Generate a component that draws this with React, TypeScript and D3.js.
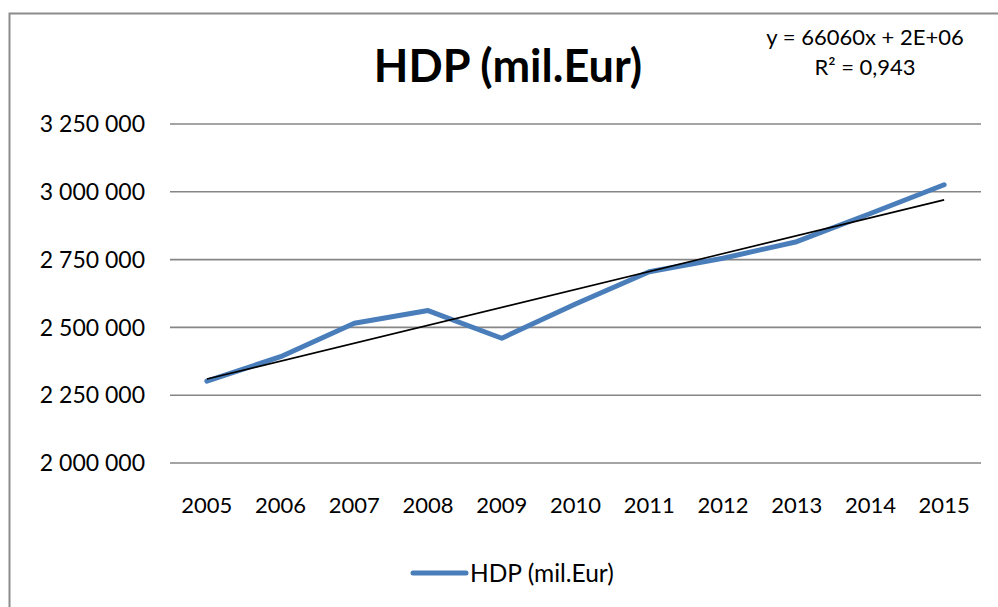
import React, { useRef, useEffect } from 'react';
import * as d3 from "d3";

// HDP data
const years = ["2005", "2006", "2007", "2008", "2009", "2010", "2011", "2012", "2013", "2014", "2015"];
const hdp = [2302000, 2392000, 2515000, 2562000, 2460000, 2586000, 2705000, 2755000, 2816000, 2920000, 3026000];
const yTicks = [2000000, 2250000, 2500000, 2750000, 3000000, 3250000];
const titleText = "HDP (mil.Eur)";
const equationLines = ["y = 66060x + 2E+06", "R² = 0,943"];

export default function App() {
    const svgRef = useRef(null);

    useEffect(() => {
        var width = 998,
            height = 607;
        var font = "Lato, 'Open Sans', sans-serif";

        var svg = d3.select(svgRef.current);
        svg.selectAll("*").remove();

        svg.append("rect")
            .attr("width", width)
            .attr("height", height)
            .attr("fill", "#fff");

        // chart border (continues past the right/bottom of the picture)
        svg.append("rect")
            .attr("x", 9.5)
            .attr("y", 13.5)
            .attr("width", width + 20)
            .attr("height", height + 20)
            .attr("fill", "none")
            .attr("stroke", "#8c8c8c")
            .attr("stroke-width", 2);

        var x = d3.scaleBand()
            .domain(years)
            .range([170, 981])
            .padding(0);

        var y = d3.scaleLinear()
            .domain([2000000, 3250000])
            .range([463, 124]);

        var fmt = function (v) {
            return d3.format(",")(v).replace(/,/g, " ");
        };

        // gridlines
        svg.append("g")
            .selectAll("line")
            .data(yTicks)
            .enter().append("line")
            .attr("x1", 170)
            .attr("x2", 981)
            .attr("y1", function (d) { return y(d); })
            .attr("y2", function (d) { return y(d); })
            .attr("stroke", "#868686")
            .attr("stroke-width", 1.6);

        // y labels
        svg.append("g")
            .selectAll("text")
            .data(yTicks)
            .enter().append("text")
            .attr("x", 145)
            .attr("y", function (d) { return y(d); })
            .attr("dy", "0.36em")
            .attr("text-anchor", "end")
            .attr("font-family", font)
            .attr("font-size", 23)
            .attr("fill", "#000")
            .text(fmt);

        // x labels
        svg.append("g")
            .selectAll("text")
            .data(years)
            .enter().append("text")
            .attr("x", function (d) { return x(d) + x.bandwidth() / 2; })
            .attr("y", 505)
            .attr("dy", "0.36em")
            .attr("text-anchor", "middle")
            .attr("font-family", font)
            .attr("font-size", 22)
            .attr("fill", "#000")
            .text(function (d) { return d; });

        var cx = function (i) { return x(years[i]) + x.bandwidth() / 2; };

        // data line
        var line = d3.line()
            .x(function (d, i) { return cx(i); })
            .y(function (d) { return y(d); });

        svg.append("path")
            .datum(hdp)
            .attr("d", line)
            .attr("fill", "none")
            .attr("stroke", "#4a7ebb")
            .attr("stroke-width", 5)
            .attr("stroke-linejoin", "round")
            .attr("stroke-linecap", "round");

        // linear trend (least squares on index 1..n)
        var n = hdp.length;
        var xs = d3.range(1, n + 1);
        var mx = d3.mean(xs), my = d3.mean(hdp);
        var sxy = d3.sum(xs, function (v, i) { return (v - mx) * (hdp[i] - my); });
        var sxx = d3.sum(xs, function (v) { return (v - mx) * (v - mx); });
        var slope = sxy / sxx;
        var icpt = my - slope * mx;

        svg.append("line")
            .attr("x1", cx(0))
            .attr("y1", y(icpt + slope * 1))
            .attr("x2", cx(n - 1))
            .attr("y2", y(icpt + slope * n))
            .attr("stroke", "#000")
            .attr("stroke-width", 1.6);

        // title
        svg.append("text")
            .attr("x", 508)
            .attr("y", 82)
            .attr("text-anchor", "middle")
            .attr("font-family", font)
            .attr("font-weight", "bold")
            .attr("font-size", 45)
            .attr("fill", "#000")
            .text(titleText);

        // trendline equation
        svg.append("g")
            .selectAll("text")
            .data(equationLines)
            .enter().append("text")
            .attr("x", 865)
            .attr("y", function (d, i) { return 45 + i * 30; })
            .attr("text-anchor", "middle")
            .attr("font-family", font)
            .attr("font-size", 22)
            .attr("fill", "#000")
            .text(function (d) { return d; });

        // legend
        var lg = svg.append("g");
        lg.append("line")
            .attr("x1", 413)
            .attr("x2", 466)
            .attr("y1", 573)
            .attr("y2", 573)
            .attr("stroke", "#4a7ebb")
            .attr("stroke-width", 5)
            .attr("stroke-linecap", "round");
        lg.append("text")
            .attr("x", 470)
            .attr("y", 573)
            .attr("dy", "0.36em")
            .attr("font-family", font)
            .attr("font-size", 24.5)
            .attr("fill", "#000")
            .text(titleText);
    }, [])

    return (
        <svg ref={svgRef} width={998} height={607}
            style={{ position: "absolute", left: 0, top: 0, display: "block" }}>
        </svg>
    )
}
